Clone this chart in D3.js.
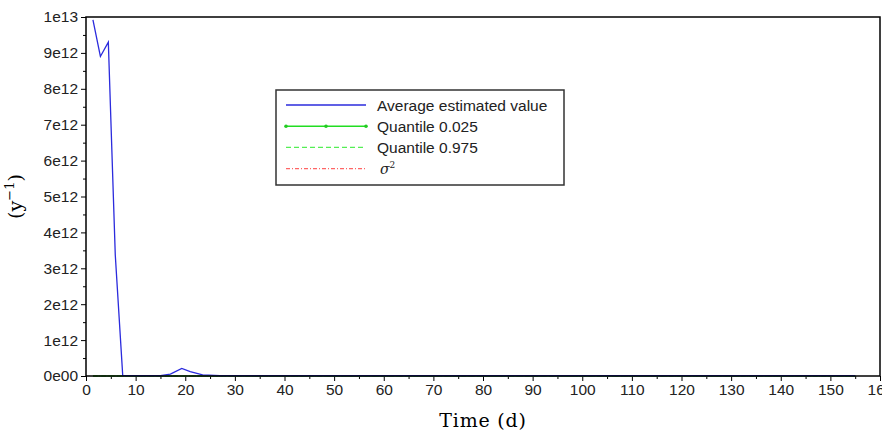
<!DOCTYPE html>
<html>
<head>
<meta charset="utf-8">
<script src="https://cdn.jsdelivr.net/npm/d3@7"></script>
<style>
  body { margin: 0; background: #fff; }
  svg { display: block; }
  .tick text { font-family: "Liberation Sans", Arial, sans-serif; font-size: 15.5px; fill: #222; }
</style>
</head>
<body>
<div id="chart"></div>
<script>
// time in days, values in y^-1
const time = [1.4, 2.9, 4.5, 5.9, 7.4, 9, 12, 15, 17, 19.3, 21, 23.5, 27, 30, 40, 50, 60, 70, 80, 90, 100, 110, 120, 130, 140, 150, 155];
const avgValue = [9.92e12, 8.9e12, 9.3e12, 3.37e12, 0.02e12, 0.01e12, 0.01e12, 0.01e12, 0.05e12, 0.21e12, 0.12e12, 0.03e12, 0.01e12, 0.01e12, 0.01e12, 0.01e12, 0.01e12, 0.01e12, 0.01e12, 0.01e12, 0.01e12, 0.01e12, 0.01e12, 0.01e12, 0.01e12, 0.01e12, 0.01e12];
const q025 = [0, 0, 0, 0, 0, 0, 0, 0, 0, 0, 0, 0, 0, 0, 0, 0, 0, 0, 0, 0, 0, 0, 0, 0, 0, 0, 0];
const q975 = [0, 0, 0, 0, 0, 0, 0, 0, 0, 0, 0, 0, 0, 0, 0, 0, 0, 0, 0, 0, 0, 0, 0, 0, 0, 0, 0];
const sigma2 = [0, 0, 0, 0, 0, 0, 0, 0, 0, 0, 0, 0, 0, 0, 0, 0, 0, 0, 0, 0, 0, 0, 0, 0, 0, 0, 0];
const xTicks = [0, 10, 20, 30, 40, 50, 60, 70, 80, 90, 100, 110, 120, 130, 140, 150, 160];
const yTicks = [0, 1e12, 2e12, 3e12, 4e12, 5e12, 6e12, 7e12, 8e12, 9e12, 1e13];
const legendLabels = ["Average estimated value", "Quantile 0.025", "Quantile 0.975", "σ²"];

const margin = { top: 17, right: 2, bottom: 64, left: 86 },
      width = 882 - margin.left - margin.right,
      height = 440 - margin.top - margin.bottom;

const svg = d3.select("#chart")
  .append("svg")
  .attr("width", 882)
  .attr("height", 440)
  .append("g")
  .attr("transform", `translate(${margin.left},${margin.top})`);

const x = d3.scaleLinear().domain([0, 160]).range([0, width]);
const y = d3.scaleLinear().domain([0, 1e13]).range([height, 0]);

const fmt = v => {
  if (v === 0) return "0e00";
  const e = Math.floor(Math.log10(v) + 1e-9);
  return Math.round(v / Math.pow(10, e)) + "e" + e;
};

// minor ticks
svg.append("g")
  .attr("transform", `translate(0,${height})`)
  .call(d3.axisBottom(x).tickValues(d3.range(5, 160, 10)).tickSize(3).tickFormat(""))
  .call(g => g.select(".domain").remove());
svg.append("g")
  .call(d3.axisLeft(y).tickValues(d3.range(0.5e12, 1e13, 1e12)).tickSize(3).tickFormat(""))
  .call(g => g.select(".domain").remove());

const xAxis = svg.append("g")
  .attr("transform", `translate(0,${height})`)
  .call(d3.axisBottom(x).tickValues(xTicks).tickSize(5).tickPadding(3));
xAxis.select(".domain").remove();

const yAxis = svg.append("g")
  .call(d3.axisLeft(y).tickValues(yTicks).tickFormat(fmt).tickSize(5).tickPadding(3));
yAxis.select(".domain").remove();

const line = vals => d3.line().x((d, i) => x(time[i])).y(d => y(d))(vals);

svg.append("path").attr("d", line(sigma2))
  .attr("fill", "none").attr("stroke", "#ff5555").attr("stroke-width", 1)
  .attr("stroke-dasharray", "4,2,1,2");
svg.append("path").attr("d", line(q975))
  .attr("fill", "none").attr("stroke", "#44ee44").attr("stroke-width", 1)
  .attr("stroke-dasharray", "5,3");
svg.append("path").attr("d", line(q025))
  .attr("fill", "none").attr("stroke", "#22aa22").attr("stroke-width", 1.5);
svg.append("path").attr("d", line(avgValue))
  .attr("fill", "none").attr("stroke", "#2b2bdd").attr("stroke-width", 1.3);

// frame
svg.append("rect")
  .attr("width", width).attr("height", height)
  .attr("fill", "none").attr("stroke", "#000").attr("stroke-width", 1.5);

// axis labels
svg.append("text")
  .attr("x", x(80)).attr("y", height + 51)
  .attr("text-anchor", "middle")
  .attr("font-family", "'DejaVu Serif', 'Liberation Serif', serif")
  .attr("font-size", 19)
  .attr("letter-spacing", 0.8)
  .text("Time (d)");

const yl = svg.append("text")
  .attr("transform", `translate(${-64},${height / 2}) rotate(-90)`)
  .attr("text-anchor", "middle")
  .attr("font-family", "'DejaVu Serif', 'Liberation Serif', serif")
  .attr("font-size", 19);
yl.append("tspan").text("(y");
yl.append("tspan").attr("dy", -8).attr("font-size", 13).text("−1");
yl.append("tspan").attr("dy", 8).text(")");

// legend
const lg = svg.append("g").attr("transform", `translate(${276 - margin.left},${90 - margin.top})`);
lg.append("rect").attr("width", 288).attr("height", 95)
  .attr("fill", "#fff").attr("stroke", "#333").attr("stroke-width", 1.5);

const styles = [
  { stroke: "#2b2bdd", dash: null },
  { stroke: "#22dd22", dash: null, dots: true },
  { stroke: "#55ee55", dash: "5,3" },
  { stroke: "#ff6666", dash: "4,2,1,2" }
];
legendLabels.forEach((lab, i) => {
  const yy = 15 + i * 21.2;
  lg.append("line").attr("x1", 10).attr("x2", 90).attr("y1", yy).attr("y2", yy)
    .attr("stroke", styles[i].stroke).attr("stroke-width", 1.4)
    .attr("stroke-dasharray", styles[i].dash);
  if (styles[i].dots) {
    [10, 50, 90].forEach(cx => lg.append("circle").attr("cx", cx).attr("cy", yy).attr("r", 1.8).attr("fill", "#22cc22"));
  }
  const t = lg.append("text").attr("x", 101).attr("y", yy + 5.5)
    .attr("font-size", 15.5).attr("fill", "#222");
  if (i === 3) {
    t.attr("font-family", "'DejaVu Serif', 'Liberation Serif', serif").attr("font-style", "italic")
      .attr("x", 104).attr("font-size", 14);
    t.append("tspan").text("σ");
    t.append("tspan").attr("dy", -6).attr("font-size", 9).attr("font-style", "normal").text("2");
  } else {
    t.attr("font-family", "'Liberation Sans', Arial, sans-serif").text(lab);
  }
});
</script>
</body>
</html>
